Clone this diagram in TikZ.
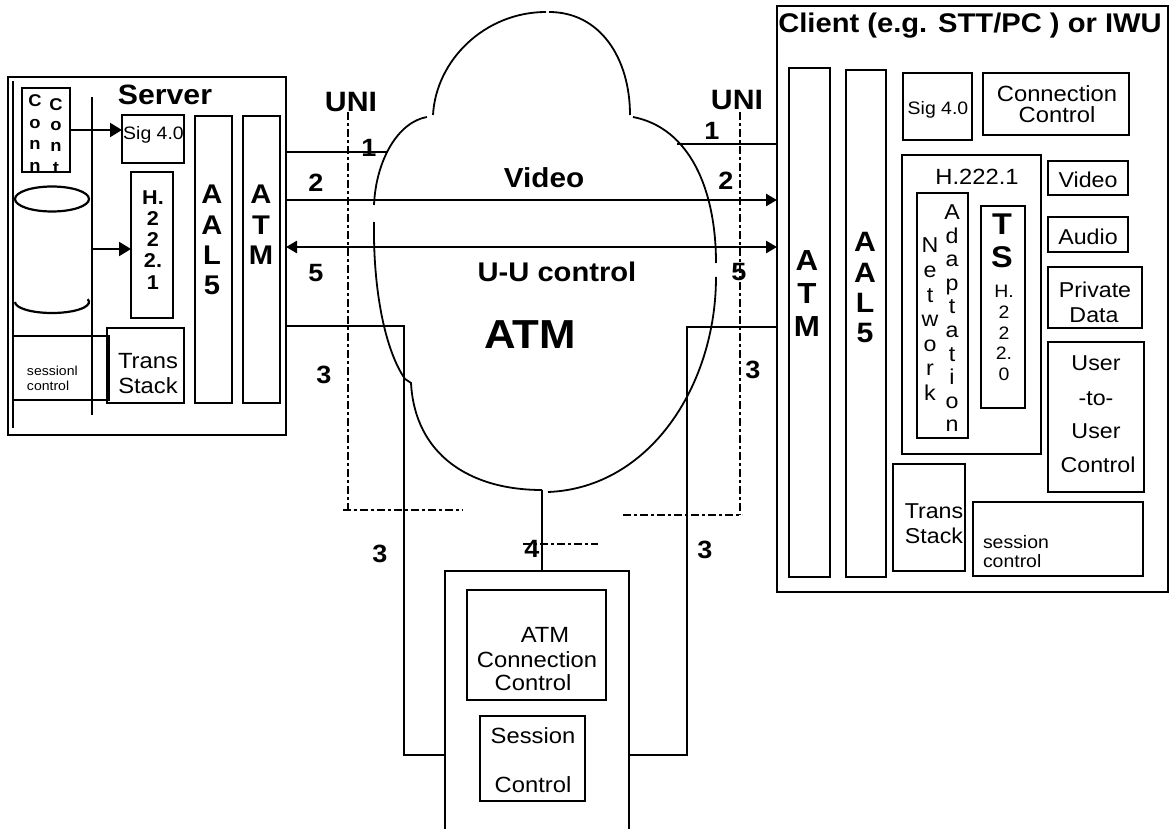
\documentclass[tikz,border=0pt]{standalone}
\usepackage{fontspec}
\setmainfont{Liberation Sans}[FakeStretch=1.08]
\usetikzlibrary{arrows.meta,fit}
\newcommand\fz[1]{\fontsize{#1}{#1}\selectfont}
\tikzset{
  box/.style={draw, line width=2.2pt, inner sep=0pt, outer sep=0pt},
  txt/.style={inner sep=0pt, outer sep=0pt, anchor=base},
  num/.style={txt, font=\bfseries\fz{25}},
  wire/.style={line width=2.2pt},
  thinwire/.style={line width=1.8pt},
  flow/.style={line width=2.6pt, -{Triangle[length=11pt,width=12pt]}},
  flowboth/.style={line width=2.6pt, {Triangle[length=11pt,width=12pt]}-{Triangle[length=11pt,width=12pt]}},
  feed/.style={line width=2.2pt, -{Triangle[length=12pt,width=14pt]}},
  dashdot/.style={line width=2pt, dash pattern=on 8pt off 3pt on 3pt off 3pt},
  cloudline/.style={line width=1.8pt},
}
\begin{document}
\begin{tikzpicture}[x=1pt,y=-1pt]
\useasboundingbox (0,0) rectangle (1173,829);
\fill[white] (0,0) rectangle (1173,829);
\clip (0,0) rectangle (1173,829);

% ---------------- Server ----------------
\node[box, fit={(8,77) (286,435)}] (srv) {};
\draw[wire] (13,81) -- (13,428);
\coordinate (busT) at (92,97);
\coordinate (busB) at (92,415);
\draw[wire] (busT) -- (busB);
\node[txt, font=\bfseries\fz{28}] (srvtitle) at (165,105) {Server};

\node[box, fit={(22,88) (70,172)}] (conn) {};
\begin{scope}
  \clip (22,88) rectangle (70,172);
  \foreach \ch/\yy [count=\i] in {C/107,o/128.5,n/150,n/171.5}
    \node[txt, font=\bfseries\fz{17}] (conna\i) at (35,\yy) {\ch};
  \foreach \ch/\yy [count=\i] in {C/111,o/131,n/152,t/174}
    \node[txt, font=\bfseries\fz{17}] (connb\i) at (56,\yy) {\ch};
\end{scope}

\node[box, fit={(122,115) (184,163)}] (ssig) {};
\node[txt, font=\fz{18}] (ssigt) at (153.5,140) {Sig 4.0};
\coordinate (a1) at (100,130);
\draw[feed] (conn.east |- a1) -- (ssig.west |- a1);

% database cylinder
\draw[wire] (52,199) ellipse [x radius=37, y radius=12.5];
\draw[wire] (15,302) arc[start angle=180, end angle=-15, x radius=37, y radius=11];

\node[box, fit={(131,172) (173,318)}] (sh) {};
\foreach \ch [count=\i] in {H.,2,2,2.,1}
  \node[txt, font=\bfseries\fz{20}] (sht\i) at (153,{205+21*(\i-1)}) {\ch};
\coordinate (busA) at (92,249);
\draw[feed] (busA) -- (sh.west |- busA);

\node[box, fit={(195,116) (232,403)}] (saal) {};
\foreach \ch [count=\i] in {A,A,L,5}
  \node[txt, font=\bfseries\fz{27}] (saalt\i) at (212,{204+30.3*(\i-1)}) {\ch};
\node[box, fit={(243,116) (280,403)}] (satm) {};
\foreach \ch [count=\i] in {A,T,M}
  \node[txt, font=\bfseries\fz{27}] (satmt\i) at (261,{204+30.5*(\i-1)}) {\ch};

\node[box, fit={(13,336) (109,400)}] (ssess) {};
\node[txt, anchor=base west, font=\fz{13}] (ssess1) at (27,375) {sessionl};
\node[txt, anchor=base west, font=\fz{13}] (ssess2) at (27,390) {control};
\node[box, fit={(107,328) (184,403)}] (strans) {};
\node[txt, font=\fz{22}] (strans1) at (148,368) {Trans};
\node[txt, font=\fz{22}] (strans2) at (148,393) {Stack};

% ---------------- Client ----------------
\node[box, fit={(777,6) (1168,592)}] (cli) {};
\node[txt, font=\bfseries\fz{27}] (clititle) at (970,33) {Client (e.g. STT/PC ) or IWU};

\node[box, fit={(789,68) (830,577)}] (catm) {};
\foreach \ch [count=\i] in {A,T,M}
  \node[txt, font=\bfseries\fz{29}] (catmt\i) at (807,{271+32.5*(\i-1)}) {\ch};
\node[box, fit={(846,70) (886,577)}] (caal) {};
\foreach \ch [count=\i] in {A,A,L,5}
  \node[txt, font=\bfseries\fz{28}] (caalt\i) at (865,{252+30.3*(\i-1)}) {\ch};

\node[box, fit={(903,73) (972,140)}] (csig) {};
\node[txt, font=\fz{18}] (csigt) at (938,115) {Sig 4.0};
\node[box, fit={(983,73) (1129,135)}] (ccc) {};
\node[txt, font=\fz{22}] (ccc1) at (1057,102) {Connection};
\node[txt, font=\fz{22}] (ccc2) at (1057,123) {Control};

\node[box, fit={(902,155) (1041,454)}] (ch) {};
\node[txt, font=\fz{22}] (cht) at (977,185) {H.222.1};
\node[box, fit={(917,193) (968,438)}] (cna) {};
\begin{scope}
  \clip (917,193) rectangle (968,438);
  \foreach \ch [count=\i] in {N,e,t,w,o,r,k}
    \node[txt, font=\fz{21.5}] (cnet\i) at (930,{253+24.5*(\i-1)}) {\ch};
  \foreach \ch [count=\i] in {A,d,a,p,t,a,t,i,o,n}
    \node[txt, font=\fz{21.5}] (cada\i) at (952,{219.5+23.6*(\i-1)}) {\ch};
\end{scope}
\node[box, fit={(981,206) (1025,408)}] (cts) {};
\node[txt, font=\bfseries\fz{30}] (ctsT) at (1002,235) {T};
\node[txt, font=\bfseries\fz{30}] (ctsS) at (1002,268) {S};
\foreach \ch [count=\i] in {H.,2,2,2.,0}
  \node[txt, font=\fz{18}] (ctsh\i) at (1004,{298+20.5*(\i-1)}) {\ch};

\node[box, fit={(1048,161) (1128,195)}] (cvid) {};
\node[txt, font=\fz{21.5}] (cvidt) at (1088,188) {Video};
\node[box, fit={(1048,217) (1128,252)}] (caud) {};
\node[txt, font=\fz{21.5}] (caudt) at (1088,245) {Audio};
\node[box, fit={(1048,267) (1142,328)}] (cpd) {};
\node[txt, font=\fz{21.5}] (cpd1) at (1095,297) {Private};
\node[txt, font=\fz{21.5}] (cpd2) at (1094,322) {Data};
\node[box, fit={(1048,342) (1144,492)}] (cuu) {};
\node[txt, font=\fz{21.5}] (cuu1) at (1096,370) {User};
\node[txt, font=\fz{21.5}] (cuu2) at (1096,405) {-to-};
\node[txt, font=\fz{21.5}] (cuu3) at (1096,438) {User};
\node[txt, font=\fz{21.5}] (cuu4) at (1098,472) {Control};

\node[box, fit={(893,464) (965,571)}] (ctrans) {};
\node[txt, font=\fz{21.5}] (ctrans1) at (934,518) {Trans};
\node[txt, font=\fz{21.5}] (ctrans2) at (934,543) {Stack};
\node[box, fit={(973,502) (1143,576)}] (csess) {};
\node[txt, anchor=base west, font=\fz{18}] (csess1) at (983,548) {session};
\node[txt, anchor=base west, font=\fz{18}] (csess2) at (983,567) {control};

% ---------------- Control node at the bottom ----------------
\node[box, fit={(445,571) (629,850)}] (bot) {};
\node[box, fit={(467,590) (606,700)}] (bacc) {};
\node[txt, font=\fz{22}] (bacc1) at (545,642) {ATM};
\node[txt, font=\fz{22}] (bacc2) at (537,667) {Connection};
\node[txt, font=\fz{22}] (bacc3) at (533,690) {Control};
\node[box, fit={(480,716) (585,801)}] (bsc) {};
\node[txt, font=\fz{22}] (bsc1) at (533,743) {Session};
\node[txt, font=\fz{22}] (bsc2) at (533,792) {Control};

% ---------------- ATM network cloud ----------------
\draw[cloudline] (433,115) .. controls (436,60) and (485,12) .. (546,12);
\draw[cloudline] (549,12) .. controls (600,12) and (630,58) .. (630,115);
\draw[cloudline] (427,117) .. controls (398,122) and (376,160) .. (374,205);
\draw[cloudline] (374,222) .. controls (373,290) and (385,350) .. (405,379) -- (411,383)
  .. controls (415,455) and (470,490) .. (542,490);
\draw[cloudline] (548,492) .. controls (650,488) and (716,385) .. (716,277);
\draw[cloudline] (716,263) .. controls (716,190) and (690,128) .. (633,117);
\node[txt, font=\bfseries\fz{40.5}] (cloudt) at (530,348) {ATM};

% ---------------- UNI boundaries ----------------
\coordinate (uL1) at (348,112);
\coordinate (uL2) at (348,510);
\coordinate (uL3) at (343,510);
\coordinate (uL4) at (463,510);
\draw[dashdot] (uL1) -- (uL2);
\draw[dashdot] (uL3) -- (uL4);
\coordinate (uR1) at (740,112);
\coordinate (uR2) at (740,515);
\coordinate (uR3) at (623,515);
\coordinate (uR4) at (742,515);
\draw[dashdot] (uR1) -- (uR2);
\draw[dashdot] (uR3) -- (uR4);
\coordinate (u4a) at (523,544);
\coordinate (u4b) at (598,544);
\draw[dashdot] (u4a) -- (u4b);
\node[txt, font=\bfseries\fz{28}] (unil) at (351,112) {UNI};
\node[txt, font=\bfseries\fz{28}] (unir) at (737,110) {UNI};

% ---------------- Connections ----------------
\coordinate (cl1) at (388,152);
\coordinate (cr1) at (677,144);
\coordinate (vid) at (500,200);
\coordinate (uu) at (500,247);
\draw[wire] (srv.east |- cl1) -- (cl1);
\draw[wire] (cr1) -- (cr1 -| cli.west);
\draw[flow] (srv.east |- vid) -- (vid -| cli.west);
\draw[flowboth] (srv.east |- uu) -- (uu -| cli.west);
\coordinate (l3a) at (404,326);
\coordinate (l3b) at (404,755);
\draw[wire] (srv.east |- l3a) -- (l3a) -- (l3b) -- (l3b -| bot.west);
\coordinate (r3a) at (687,327);
\coordinate (r3b) at (687,755);
\draw[wire] (cli.west |- r3a) -- (r3a) -- (r3b) -- (r3b -| bot.east);
\coordinate (cb) at (542,490);
\draw[thinwire] (cb) -- (cb |- bot.north);

\node[txt, font=\bfseries\fz{27.5}] (vidt) at (544,188) {Video};
\node[txt, font=\bfseries\fz{27}] (uut) at (557,282) {U-U control};

\node[num] (n1l) at (369,157) {1};
\node[num] (n2l) at (316,192) {2};
\node[num] (n5l) at (316,282) {5};
\node[num] (n3l) at (324,383) {3};
\node[num] (n1r) at (712,140) {1};
\node[num] (n2r) at (726,190) {2};
\node[num] (n5r) at (739,280) {5};
\node[num] (n3r) at (753,378) {3};
\node[num] (n3bl) at (380,562) {3};
\node[num] (n3br) at (705,558) {3};
\node[num] (n4) at (532,557) {4};
\end{tikzpicture}
\end{document}
